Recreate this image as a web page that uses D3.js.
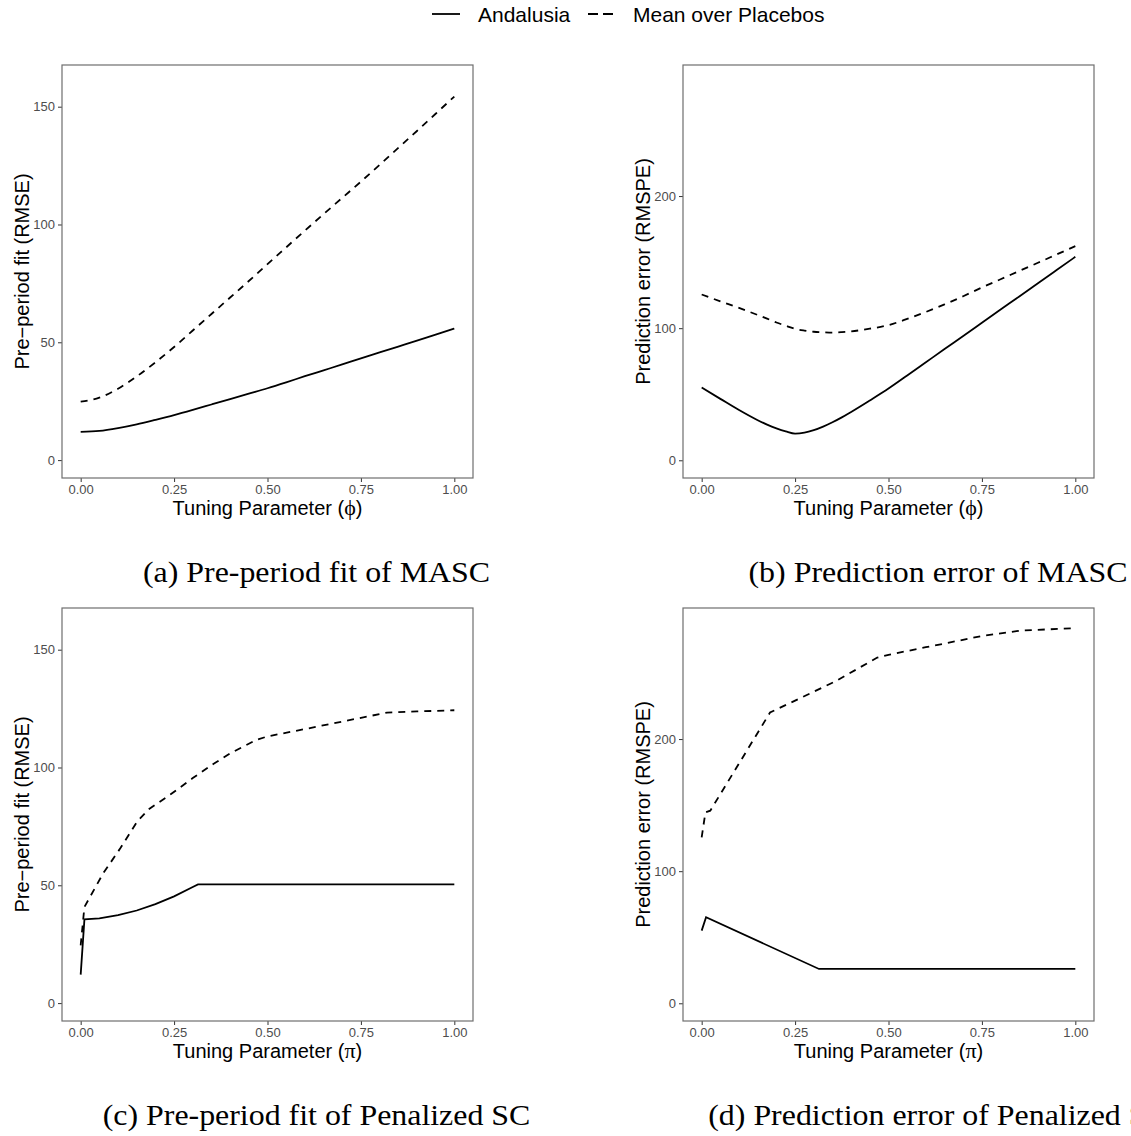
<!DOCTYPE html>
<html>
<head>
<meta charset="utf-8">
<script src="https://cdn.jsdelivr.net/npm/d3@7"></script>
<style>
  html, body { margin: 0; padding: 0; background: #fff; }
  svg { display: block; }
  .tick text { font-family: "Liberation Sans", Arial, sans-serif; font-size: 13px; fill: #4d4d4d; }
  .axis-title { font-family: "Liberation Sans", Arial, sans-serif; font-size: 20px; fill: #000; }
  .legend text { font-family: "Liberation Sans", Arial, sans-serif; font-size: 21px; fill: #000; }
  .caption { font-family: "Liberation Serif", "Times New Roman", serif; font-size: 29px; fill: #000; }
</style>
</head>
<body>
<script>
// ---- MASC: tuning parameter phi ----
const phiGrid = [0, 0.05, 0.1, 0.15, 0.2, 0.25, 0.3, 0.35, 0.4, 0.45, 0.5,
                 0.55, 0.6, 0.65, 0.7, 0.75, 0.8, 0.85, 0.9, 0.95, 1.0];
const rmseMascAndalusia = [12.0, 12.4, 13.6, 15.2, 17.1, 19.1, 21.3, 23.6, 25.9, 28.2, 30.5,
                           33.0, 35.6, 38.1, 40.6, 43.2, 45.7, 48.2, 50.7, 53.3, 55.8];
const rmseMascPlacebo = [24.8, 26.5, 30.3, 35.5, 41.5, 48.0, 55.0, 62.0, 69.0, 76.0, 83.2,
                         90.3, 97.4, 104.4, 111.3, 118.2, 125.3, 132.5, 139.7, 147.0, 154.3];

const phiGridB = [0, 0.05, 0.1, 0.15, 0.175, 0.2, 0.225, 0.25, 0.275, 0.3, 0.325, 0.35, 0.375, 0.4, 0.45, 0.5,
                  0.55, 0.6, 0.65, 0.7, 0.75, 0.8, 0.85, 0.9, 0.95, 1.0];
const rmspeMascAndalusia = [55.1, 46.5, 38.0, 30.3, 27.0, 24.2, 21.9, 20.2, 20.9, 22.8, 25.5, 28.8, 32.5, 36.6, 45.3, 54.3,
                            64.2, 74.2, 84.2, 94.1, 104.1, 114.1, 124.0, 134.0, 144.0, 154.0];
const rmspeMascPlacebo = [125.5, 120.3, 115.3, 110.0, 107.2, 104.3, 101.8, 99.5, 98.2, 97.3, 96.9, 96.7, 97.0, 97.6, 99.6, 102.3,
                          107.0, 112.3, 118.0, 124.2, 130.8, 137.0, 143.3, 149.5, 155.8, 162.1];

// ---- Penalized SC: tuning parameter pi ----
const piFitAndalusia   = [0, 0.01, 0.05, 0.1, 0.15, 0.2, 0.25, 0.3, 0.314, 1.0];
const rmsePenAndalusia = [12.1, 35.5, 36.0, 37.3, 39.3, 42.0, 45.3, 49.3, 50.4, 50.4];
const piFitPlacebo     = [0, 0.01, 0.06, 0.106, 0.151, 0.182, 0.24, 0.3, 0.355, 0.4, 0.47, 0.5, 0.6, 0.7, 0.82, 0.9, 1.0];
const rmsePenPlacebo   = [24.5, 40.8, 55.0, 65.7, 77.0, 82.3, 88.5, 95.5, 101.5, 106.0, 111.7, 113.2, 116.3, 119.5, 123.3, 123.8, 124.3];

const piPredAndalusia   = [0, 0.0117, 0.314, 1.0];
const rmspePenAndalusia = [55.0, 65.1, 26.0, 26.0];
const piPredPlacebo     = [0, 0.01, 0.023, 0.183, 0.25, 0.33, 0.36, 0.47, 0.5, 0.6, 0.75, 0.85, 1.0];
const rmspePenPlacebo   = [125.6, 144.5, 145.8, 220.1, 229.1, 239.9, 244.0, 261.7, 263.8, 269.5, 278.0, 282.0, 284.0];

// ---- labels ----
const xTicks = [0, 0.25, 0.5, 0.75, 1.0];
const fitTicks = [0, 50, 100, 150];
const predTicks = [0, 100, 200];
const legendLabels = ["Andalusia", "Mean over Placebos"];
const captions = ["(a) Pre-period fit of MASC", "(b) Prediction error of MASC",
                  "(c) Pre-period fit of Penalized SC", "(d) Prediction error of Penalized SC"];

const W = 1131, H = 1136;
const svg = d3.select("body").append("svg").attr("width", W).attr("height", H);

const zip = (xs, ys) => xs.map((x, i) => ({ x, y: ys[i] }));

const panels = [
  { box: [62, 65, 473, 478], ydom: [-7.6, 167.7], yticks: fitTicks, ylab: "Pre\u2212period fit (RMSE)", sym: "\u03D5",
    solid: zip(phiGrid, rmseMascAndalusia), dashed: zip(phiGrid, rmseMascPlacebo), smooth: true,
    cap: captions[0], capX: 316.5, capY: 582 },
  { box: [683, 65, 1094, 478], ydom: [-13.4, 299.2], yticks: predTicks, ylab: "Prediction error (RMSPE)", sym: "\u03D5",
    solid: zip(phiGridB, rmspeMascAndalusia), dashed: zip(phiGridB, rmspeMascPlacebo), smooth: true,
    cap: captions[1], capX: 938, capY: 582 },
  { box: [62, 608, 473, 1021], ydom: [-7.6, 167.7], yticks: fitTicks, ylab: "Pre\u2212period fit (RMSE)", sym: "\u03C0",
    solid: zip(piFitAndalusia, rmsePenAndalusia), dashed: zip(piFitPlacebo, rmsePenPlacebo), smooth: false,
    cap: captions[2], capX: 316.5, capY: 1125 },
  { box: [683, 608, 1094, 1021], ydom: [-13.4, 299.2], yticks: predTicks, ylab: "Prediction error (RMSPE)", sym: "\u03C0",
    solid: zip(piPredAndalusia, rmspePenAndalusia), dashed: zip(piPredPlacebo, rmspePenPlacebo), smooth: false,
    cap: captions[3], capX: 938, capY: 1125 }
];

panels.forEach(p => {
  const [l, t, r, b] = p.box;
  const x = d3.scaleLinear().domain([-0.05, 1.05]).range([l, r]);
  const y = d3.scaleLinear().domain(p.ydom).range([b, t]);

  // axes
  const xAxis = svg.append("g").attr("transform", `translate(0,${b})`)
    .call(d3.axisBottom(x).tickValues(xTicks).tickFormat(d3.format(".2f")).tickSize(4).tickPadding(3));
  const yAxis = svg.append("g").attr("transform", `translate(${l},0)`)
    .call(d3.axisLeft(y).tickValues(p.yticks).tickFormat(d3.format("d")).tickSize(4).tickPadding(3));
  [xAxis, yAxis].forEach(g => {
    g.select(".domain").remove();
    g.selectAll(".tick line").attr("stroke", "#333").attr("stroke-width", 1);
  });

  // panel border
  svg.append("rect").attr("x", l).attr("y", t).attr("width", r - l).attr("height", b - t)
    .attr("fill", "none").attr("stroke", "#6e6e6e").attr("stroke-width", 1.2);

  const line = d3.line().x(d => x(d.x)).y(d => y(d.y))
    .curve(p.smooth ? d3.curveMonotoneX : d3.curveLinear);

  svg.append("path").datum(p.dashed).attr("d", line)
    .attr("fill", "none").attr("stroke", "#000").attr("stroke-width", 1.8)
    .attr("stroke-dasharray", "7,6");
  svg.append("path").datum(p.solid).attr("d", line)
    .attr("fill", "none").attr("stroke", "#000").attr("stroke-width", 1.8);

  // axis titles
  const xt = svg.append("text").attr("class", "axis-title")
    .attr("x", (l + r) / 2).attr("y", b + 37).attr("text-anchor", "middle");
  xt.append("tspan").text("Tuning Parameter (");
  xt.append("tspan").attr("font-family", "Liberation Serif, DejaVu Serif, serif").attr("font-size", 22).text(p.sym);
  xt.append("tspan").text(")");

  svg.append("text").attr("class", "axis-title")
    .attr("transform", `translate(${l - 33},${(t + b) / 2}) rotate(-90)`)
    .attr("text-anchor", "middle").text(p.ylab);

  // sub-figure caption (the last one runs past the right edge of the page)
  svg.append("text").attr("class", "caption")
    .attr("transform", `translate(${p.capX},${p.capY}) scale(1.1,1)`)
    .attr("text-anchor", "middle").text(p.cap);
});

// legend
const lg = svg.append("g").attr("class", "legend");
lg.append("line").attr("x1", 432).attr("x2", 460).attr("y1", 14).attr("y2", 14)
  .attr("stroke", "#000").attr("stroke-width", 1.8);
lg.append("text").attr("x", 478).attr("y", 21.5).text(legendLabels[0]);
lg.append("line").attr("x1", 588).attr("x2", 613).attr("y1", 14).attr("y2", 14)
  .attr("stroke", "#000").attr("stroke-width", 1.8).attr("stroke-dasharray", "10,5");
lg.append("text").attr("x", 633).attr("y", 21.5).text(legendLabels[1]);
</script>
</body>
</html>
